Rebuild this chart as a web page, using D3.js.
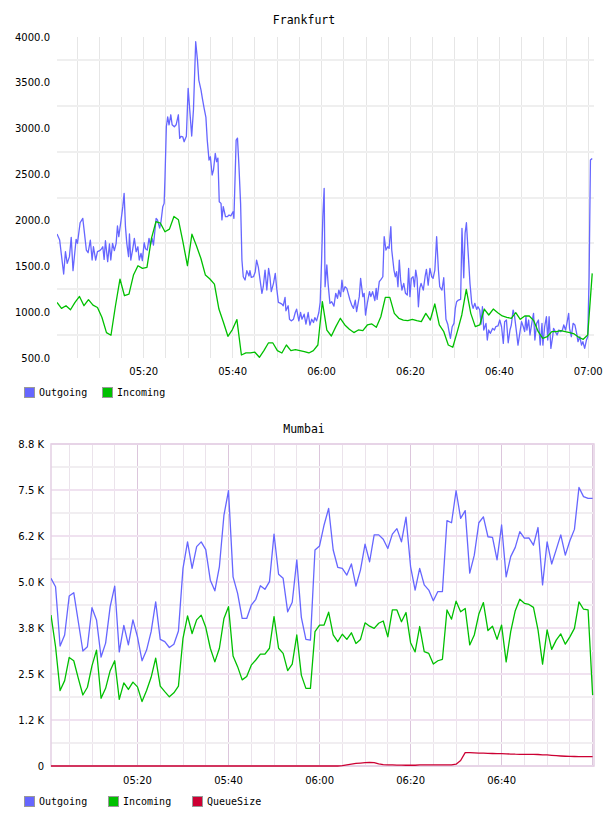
<!DOCTYPE html>
<html>
<head>
<meta charset="utf-8">
<script src="https://cdn.jsdelivr.net/npm/d3@7"></script>
<style>
  body { margin: 0; background: #fff; }
  .tick text { font-family: "DejaVu Sans", sans-serif; font-size: 10px; fill: #000; }
</style>
</head>
<body>
<svg id="chart" width="608" height="816"></svg>
<script>
// ---- Frankfurt: minutes after 05:00 and values ----
var fraOutMin = [0.6,1.2,2.1,2.5,2.9,3.4,3.8,4.2,4.6,4.9,5.2,5.8,6.4,6.7,7.2,7.6,8.1,8.5,8.8,9.3,
  9.7,10.2,10.6,10.9,11.2,11.5,12.0,12.4,12.7,13.1,13.5,13.9,14.2,14.5,15.0,15.4,15.7,16.0,16.3,16.7,
  16.9,17.2,17.6,18.0,18.4,18.8,19.1,19.5,19.8,20.2,20.5,20.9,21.3,21.6,22.0,22.3,22.9,23.2,23.7,24.0,
  24.4,24.7,24.9,25.2,25.5,25.8,26.2,26.5,27.0,27.4,27.9,28.2,28.5,28.9,29.2,29.7,30.1,30.6,30.9,31.3,
  31.8,32.2,32.5,33.0,33.3,33.7,34.1,34.4,34.8,35.1,35.5,35.8,36.2,36.5,36.8,37.1,37.5,37.7,38.0,38.5,
  38.9,39.3,39.7,40.2,40.4,40.9,41.2,41.5,41.9,42.2,42.5,42.9,43.3,43.8,44.0,44.3,44.8,45.2,45.5,45.9,
  46.3,46.7,47.0,47.4,47.8,48.2,48.5,48.8,49.3,49.7,50.0,50.4,50.8,51.2,51.5,51.9,52.1,52.6,52.9,53.3,
  53.8,54.2,54.5,55.0,55.4,55.7,56.2,56.6,57.1,57.5,57.9,58.3,58.6,59.0,59.5,59.8,60.1,60.4,60.7,
  60.9,61.3,61.6,62.0,62.4,62.9,63.3,63.7,64.0,64.4,64.7,65.0,65.4,65.8,66.1,66.5,66.9,67.3,67.7,68.0,
  68.6,68.9,69.4,69.7,70.0,70.4,70.9,71.2,71.6,72.1,72.4,72.6,73.1,73.5,73.9,74.2,74.6,75.0,75.3,75.7,
  75.9,76.4,76.7,77.0,77.3,77.6,77.9,78.2,78.6,79.0,79.4,79.7,80.0,80.3,80.7,81.0,81.3,81.6,81.9,82.2,
  82.5,83.0,83.4,83.7,84.1,84.5,84.9,85.2,85.6,86.0,86.4,86.7,87.2,87.6,88.1,88.5,88.8,89.1,89.5,89.9,
  90.2,90.5,90.9,91.4,91.7,92.1,92.4,92.7,93.1,93.5,93.9,94.2,94.6,95.0,95.3,95.7,96.0,96.3,96.6,97.1,
  97.4,97.7,98.1,98.6,99.0,99.3,99.8,100.2,100.6,101.0,101.3,101.7,102.1,102.5,102.8,103.2,103.5,104.0,104.3,104.7,
  105.1,105.5,105.8,106.1,106.3,106.7,107.0,107.4,107.8,108.1,108.5,108.9,109.3,109.7,109.9,110.3,110.7,111.0,111.3,111.7,
  112.1,112.3,112.7,113.1,113.5,113.9,114.3,114.6,115.0,115.3,115.7,115.9,116.3,116.7,117.1,117.5,117.8,118.2,118.6,118.9,
  119.3,119.7,120.0,120.3,120.6,121.0];
var fraOut = [1852,1786,1416,1659,1532,1605,1816,1452,1648,1794,1750,1975,2023,1895,1677,1648,1786,1568,1713,1568,
  1659,1670,1690,1713,1575,1779,1550,1743,1568,1750,1670,1750,1939,1823,1998,2150,2295,1932,1750,1605,
  1852,1568,1677,1805,1659,1713,1568,1641,1561,1757,1692,1677,1805,1732,1805,1732,2023,2005,1917,1990,
  2150,2186,2476,3021,3130,3043,3152,3043,3021,3043,3152,2895,2917,2910,2858,2917,3440,3115,2920,3210,
  3948,3748,3530,3421,3330,3221,3123,2876,2658,2694,2495,2549,2730,2640,2680,2204,2186,2005,2150,2041,
  2041,2059,2050,2095,2023,2876,2898,2622,2186,1568,1386,1350,1452,1394,1452,1379,1386,1441,1568,1488,
  1343,1205,1277,1459,1241,1477,1386,1223,1314,1423,1270,1106,1099,1088,1070,1161,1015,1070,923,905,
  923,996,1033,905,996,923,978,869,996,858,923,887,941,905,996,1106,1532,2041,2350,
  1277,1514,1300,1096,1114,1066,1205,1151,1241,1169,1350,1223,1277,1259,1205,1132,1077,1041,1132,1005,
  1169,1368,1169,1205,968,1096,1223,1169,1223,1125,1259,1140,1332,1357,1386,1823,1677,1713,1695,1932,
  1677,1459,1386,1441,1277,1568,1350,1241,1314,1205,1187,1477,1169,1368,1386,1277,1459,1368,1059,1259,
  1314,1241,1386,1466,1295,1477,1386,1368,1459,1823,1459,1277,1241,1375,923,869,787,714,841,878,
  1041,1114,1132,1140,1914,1375,1860,1975,1641,1314,1096,1041,1096,1030,1059,1023,869,1059,805,878,
  696,805,769,823,805,841,849,914,841,659,896,914,666,805,860,1023,968,769,641,769,
  896,841,787,950,805,914,751,878,987,696,878,914,641,878,641,841,950,696,950,605,
  732,823,787,751,805,787,805,860,805,878,987,823,732,878,860,769,678,732,641,678,
  605,696,732,1386,2658,2676];
// incoming is sampled about once a minute, from 05:00:36 to 07:01:00
var fraInStart = 0.6, fraInEnd = 121.0;
var fraIn = [1106,1041,1070,1026,1106,1171,1070,1136,1077,1051,941,777,748,1070,1361,1179,1197,1404,1506,1477,
  1488,1804,1986,1970,1876,1905,2043,2007,1767,1506,1850,1723,1585,1404,1361,1306,1034,889,737,810,
  919,533,555,555,563,508,581,664,664,581,555,642,581,592,581,570,555,581,642,1114,
  805,740,842,933,860,813,777,806,798,860,871,835,950,1161,1161,987,933,914,907,922,
  907,896,987,914,1089,860,787,642,617,787,969,1249,987,842,860,1034,969,1034,994,958,
  943,933,994,922,958,958,907,787,714,732,787,787,798,787,777,762,726,704,751,1423];
var fraYTicks = [500,1000,1500,2000,2500,3000,3500,4000];
var fraYLabels = ["500.0","1000.0","1500.0","2000.0","2500.0","3000.0","3500.0","4000.0"];
var fraYGrid = [750,1250,1750,2250,2750,3250,3750];
var fraXTicks = [20,40,60,80,100,120];

// ---- Mumbai: one sample a minute starting 05:01 ----
var mumStart = 1.1;
var mumOut = [5100,4870,3260,3560,4620,4710,3920,3125,3240,4300,3970,2960,3340,4330,4890,3100,3820,3290,3970,3510,
  2860,3150,3650,4460,3440,3380,3220,3310,3670,5370,6090,5370,5960,6090,5880,5050,4760,5420,6820,7480,
  5140,4690,4010,4010,4370,4530,4900,4800,5010,6300,5210,5100,4190,4450,5600,4040,3440,3420,5870,5980,
  6550,7000,5870,5400,5370,5190,5490,4890,5330,6030,5550,6280,6280,6160,5910,6300,6450,6090,6760,5420,
  4780,5370,4920,4780,4490,4740,4740,6670,6610,7480,6730,6940,5240,5730,6610,6770,6230,6210,5600,6550,
  5140,5690,5940,6370,6190,6200,6000,6480,4920,6090,5490,5880,6280,5730,6120,6430,7570,7320,7270,7270];
var mumIn = [4100,3240,2050,2320,2950,2860,2380,1930,2140,2720,3150,1840,2110,2590,2860,1810,2260,2080,2280,2150,
  1750,2050,2410,2930,2170,2020,1880,1990,2170,3470,4080,3600,3970,4100,3770,3200,2830,3200,4010,4330,
  2990,2700,2340,2430,2740,2880,3040,3040,3200,4060,3200,3060,2590,2770,3560,2470,2110,2110,3650,3830,
  3830,4180,3560,3380,3580,3440,3620,3330,3440,3890,3800,3740,3880,3940,3510,4240,4240,3920,4170,3350,
  3100,3790,3110,3060,2770,2860,2900,4240,3990,4480,4190,4280,3290,3560,4130,4440,3680,3800,3440,3830,
  2830,3650,4220,4530,4420,4390,4310,3700,2770,3700,3170,3420,3590,3310,3510,3740,4460,4260,4240,1930];
var mumQueue = [0,0,0,0,0,0,0,0,0,0,0,0,0,0,0,0,0,0,0,0,
  0,0,0,0,0,0,0,0,0,0,0,0,0,0,0,0,0,0,0,0,
  0,0,0,0,0,0,0,0,0,0,0,0,0,0,0,0,0,0,0,0,
  0,0,0,0,10,30,50,70,80,90,100,90,60,40,30,30,25,25,20,20,
  20,30,30,30,30,30,30,30,30,50,150,365,362,358,352,348,344,340,338,334,
  330,325,320,318,315,315,315,312,305,300,290,280,272,265,260,258,256,255,255,255];
var mumYTicks = [0,1250,2500,3750,5000,6250,7500,8750];
var mumYLabels = ["0","1.2 K","2.5 K","3.8 K","5.0 K","6.2 K","7.5 K","8.8 K"];
var mumYMinor = [625,1875,3125,4375,5625,6875,8125];
var mumXTicks = [20,40,60,80,100];

var BLUE = "#6666ff", GREEN = "#00c000", RED = "#cc0033";
var base = new Date(2020, 0, 1, 5, 0, 0);
function toTime(m) { return new Date(base.getTime() + m * 60000); }
var fmt = d3.timeFormat("%H:%M");

var svg = d3.select("#chart");

function title(txt, y) {
  svg.append("text").attr("x", 304).attr("y", y).attr("text-anchor", "middle")
    .style("font-family", "DejaVu Sans Mono, monospace").style("font-size", "11.5px")
    .text(txt);
}

function legend(items, y) {
  var g = svg.append("g");
  items.forEach(function(it) {
    g.append("rect").attr("x", it.x + 0.5).attr("y", y + 0.5).attr("width", 10).attr("height", 10)
      .attr("fill", it.color).attr("stroke", "#999");
    g.append("text").attr("x", it.x + 15).attr("y", y + 9)
      .style("font-family", "DejaVu Sans Mono, monospace").style("font-size", "10px")
      .text(it.name);
  });
}

function drawLine(g, data, x, y, color, clipId) {
  var line = d3.line().x(function(d) { return x(d[0]); }).y(function(d) { return y(d[1]); });
  g.append("path").datum(data)
    .attr("clip-path", "url(#" + clipId + ")")
    .attr("fill", "none").attr("stroke", color).attr("stroke-width", 1.3)
    .attr("stroke-linejoin", "round")
    .attr("d", line);
}

// ================= Frankfurt =================
(function() {
  var L = 57, R = 594, T = 37, B = 358;
  var x = d3.scaleTime().domain([toTime(0.6), toTime(121.4)]).range([L, R]);
  var y = d3.scaleLinear().domain([500, 4000]).range([B, T]);

  svg.append("clipPath").attr("id", "clipF").append("rect")
    .attr("x", L).attr("y", T - 2).attr("width", R - L).attr("height", B - T + 2);

  var g = svg.append("g");
  // vertical grid every 5 minutes
  g.selectAll(".vg").data(d3.timeMinute.every(5).range(toTime(0.6), toTime(121.4)))
    .enter().append("line")
    .attr("x1", function(d) { return Math.round(x(d)) + 0.5; })
    .attr("x2", function(d) { return Math.round(x(d)) + 0.5; })
    .attr("y1", T).attr("y2", B)
    .attr("stroke", "#e6e6e6").attr("stroke-width", 1);
  g.selectAll(".hg").data(fraYGrid).enter().append("line")
    .attr("x1", L).attr("x2", R)
    .attr("y1", function(d) { return Math.round(y(d)); })
    .attr("y2", function(d) { return Math.round(y(d)); })
    .attr("stroke", "#efefef").attr("stroke-width", 2);

  // y labels
  g.selectAll(".yl").data(fraYTicks).enter().append("text")
    .attr("x", 50).attr("y", function(d) { return y(d) + 3.5; })
    .attr("text-anchor", "end")
    .style("font-family", "DejaVu Sans, sans-serif").style("font-size", "10px")
    .text(function(d, i) { return fraYLabels[i]; });

  var xAxis = d3.axisBottom(x).tickValues(fraXTicks.map(toTime)).tickFormat(fmt).tickSize(0).tickPadding(10);
  var ax = svg.append("g").attr("transform", "translate(0," + B + ")").call(xAxis);
  ax.select(".domain").remove();

  var outData = fraOut.map(function(v, i) { return [toTime(fraOutMin[i]), v]; });
  var inScale = d3.scaleLinear().domain([0, fraIn.length - 1]).range([fraInStart, fraInEnd]);
  var inData = fraIn.map(function(v, i) { return [toTime(inScale(i)), v]; });
  drawLine(g, outData, x, y, BLUE, "clipF");
  drawLine(g, inData, x, y, GREEN, "clipF");

  title("Frankfurt", 24);
  legend([{ name: "Outgoing", color: BLUE, x: 24 }, { name: "Incoming", color: GREEN, x: 102 }], 387);
})();

// ================= Mumbai =================
(function() {
  var L = 51, R = 594, T = 444, B = 766;
  var x = d3.scaleTime().domain([toTime(1.1), toTime(120.4)]).range([L, R]);
  var y = d3.scaleLinear().domain([0, 8750]).range([B, T]);

  svg.append("clipPath").attr("id", "clipM").append("rect")
    .attr("x", L).attr("y", T - 2).attr("width", R - L).attr("height", B - T + 3);

  var g = svg.append("g");
  var mins = d3.timeMinute.every(5).range(toTime(1.1), toTime(120.4));
  g.selectAll(".vg").data(mins).enter().append("line")
    .attr("x1", function(d) { return Math.round(x(d)) + 0.5; })
    .attr("x2", function(d) { return Math.round(x(d)) + 0.5; })
    .attr("y1", T).attr("y2", B)
    .attr("stroke", function(d) { return d.getMinutes() % 20 === 0 ? "#dcc6dc" : "#ebe3eb"; })
    .attr("stroke-width", 1);
  g.selectAll(".hm").data(mumYMinor).enter().append("line")
    .attr("x1", L).attr("x2", R)
    .attr("y1", function(d) { return Math.round(y(d)); })
    .attr("y2", function(d) { return Math.round(y(d)); })
    .attr("stroke", "#f1eef1").attr("stroke-width", 2);
  g.selectAll(".hg").data(mumYTicks).enter().append("line")
    .attr("x1", L).attr("x2", R)
    .attr("y1", function(d) { return Math.round(y(d)); })
    .attr("y2", function(d) { return Math.round(y(d)); })
    .attr("stroke", "#f0e2f0").attr("stroke-width", 2);
  g.append("rect").attr("x", L).attr("y", T).attr("width", R - L).attr("height", B - T)
    .attr("fill", "none").attr("stroke", "#e4d0e4").attr("stroke-width", 1.5);

  g.selectAll(".yl").data(mumYTicks).enter().append("text")
    .attr("x", 44).attr("y", function(d) { return y(d) + 3.5; })
    .attr("text-anchor", "end")
    .style("font-family", "DejaVu Sans, sans-serif").style("font-size", "10px")
    .text(function(d, i) { return mumYLabels[i]; });

  var xAxis = d3.axisBottom(x).tickValues(mumXTicks.map(toTime)).tickFormat(fmt).tickSize(0).tickPadding(11);
  var ax = svg.append("g").attr("transform", "translate(0," + B + ")").call(xAxis);
  ax.select(".domain").remove();

  function series(arr) { return arr.map(function(v, i) { return [toTime(mumStart + i), v]; }); }
  drawLine(g, series(mumOut), x, y, BLUE, "clipM");
  drawLine(g, series(mumIn), x, y, GREEN, "clipM");
  drawLine(g, series(mumQueue), x, y, RED, "clipM");

  title("Mumbai", 433);
  legend([{ name: "Outgoing", color: BLUE, x: 24 }, { name: "Incoming", color: GREEN, x: 108 },
          { name: "QueueSize", color: RED, x: 192 }], 796);
})();
</script>
</body>
</html>
